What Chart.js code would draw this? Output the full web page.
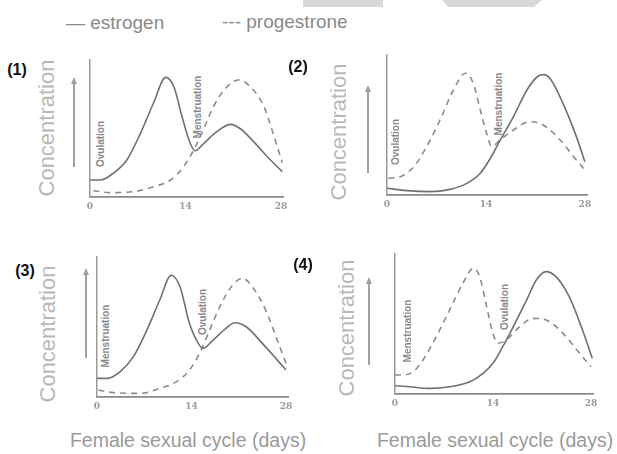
<!DOCTYPE html>
<html>
<head>
<meta charset="utf-8">
<script src="https://cdn.jsdelivr.net/npm/chart.js@4.4.1/dist/chart.umd.min.js"></script>
<style>
  html, body { margin:0; padding:0; background:#fff; }
  body { width:617px; height:454px; position:relative; overflow:hidden; font-family:"Liberation Sans", Arial, sans-serif; }
  .abs { position:absolute; white-space:nowrap; }
  .c { transform:translate(-50%,-50%); }
  .rot { transform:translate(-50%,-50%) rotate(-90deg); }
  canvas { position:absolute; }
</style>
</head>
<body>
<script>
// ---------- data (days, concentration in arbitrary units 0-100) ----------
const xTickLabels = [0, 14, 28];
const legendLabels = ["estrogen", "progestrone"];
const panelLabels = ["(1)", "(2)", "(3)", "(4)"];
const yTitle = "Concentration";
const xTitle = "Female sexual cycle (days)";

const p1EstDays = [0, 1.5, 3.4, 5.4, 7.4, 9.3, 11.1, 12.3, 13.5, 14.7, 15.4, 16.7, 18.6, 20.6, 22, 24, 26, 28.2];
const p1EstVals = [12.4, 12.4, 17.3, 27, 46.5, 68.4, 87.3, 80.5, 58.6, 39.2, 33.8, 39.2, 47.7, 53, 50, 40.4, 29.4, 18.5];
const p1ProDays = [0.5, 2.9, 6.4, 9.3, 11.8, 13.7, 15.2, 16.7, 18.1, 20.1, 21.8, 23.5, 25.5, 27, 28.2];
const p1ProVals = [4.6, 3.2, 3.9, 7.5, 12.4, 22, 34.3, 50, 66, 80.5, 85.4, 80.5, 66, 44, 25];

const p2EstDays = [0, 2.8, 6.1, 8.9, 11.3, 13.2, 14.6, 16, 17.9, 19.8, 21.4, 22.2, 23.1, 24.9, 26.8, 28];
const p2EstVals = [4.8, 3.1, 2.4, 4, 8.3, 15.5, 26, 39, 56, 75, 85, 86, 83, 65.5, 41.7, 23.8];
const p2ProDays = [0.2, 1.9, 3.8, 5.6, 7.5, 9.4, 11.1, 12.2, 13.2, 14.1, 14.8, 16, 17.9, 20.2, 22.1, 24.5, 26.4, 28];
const p2ProVals = [11.9, 13.1, 20.2, 34.5, 53.6, 75, 87, 79.8, 60.7, 44, 34.5, 39.3, 46.4, 52.4, 50, 39.3, 27.4, 17.9];

const p3EstDays = [0, 1.5, 3.4, 5.4, 7.4, 9.3, 11, 12.3, 13.7, 15, 15.7, 17.2, 19.1, 20.4, 22.1, 24.5, 26.5, 28];
const p3EstVals = [13.3, 13.3, 18, 28.8, 47.9, 69.3, 87, 78.8, 52.6, 38.3, 34.8, 40.7, 49, 53, 50.2, 38.3, 27.6, 19.3];
const p3ProDays = [0.2, 2.4, 6.4, 9.3, 11.8, 13.7, 15.2, 16.7, 18.2, 20.1, 21.6, 23, 25, 26.7, 28];
const p3ProVals = [5, 3.1, 2.6, 6.2, 11, 19.3, 31.2, 47.9, 64.5, 80, 84.8, 78.8, 62, 40.7, 24];

const p4EstDays = [0, 2.1, 5, 7.8, 10.7, 12.6, 14, 15.4, 16.9, 18.8, 20.2, 21.6, 23, 24.9, 26.8, 28.2];
const p4EstVals = [5.9, 5.2, 4, 5.2, 8.8, 14.8, 21.9, 33.8, 48, 67, 81.4, 87.4, 83.8, 69.5, 45.7, 25.5];
const p4ProDays = [0, 1.2, 2.6, 4, 5.9, 7.8, 9.7, 11.2, 12.1, 13.1, 14, 14.7, 15.9, 17.8, 19.7, 21.6, 24, 26.4, 28];
const p4ProVals = [13.6, 13.6, 15.9, 24.3, 41, 60, 79, 89.8, 83.8, 62.4, 43.3, 36.2, 38.6, 48, 54, 52.9, 43.3, 29, 19.5];

const eventLabels = [["Ovulation", "Menstruation"], ["Ovulation", "Menstruation"], ["Menstruation", "Ovulation"], ["Menstruation", "Ovulation"]];

// ---------- layout ----------
const panels = [
  { area:[90, 60, 283, 197], est:[p1EstDays, p1EstVals], pro:[p1ProDays, p1ProVals], lab:[17, 70], conc:[47, 128], arrow:[74, 77, 167], ev:[[100,144],[197,107]], xt:null },
  { area:[387, 55, 587, 195], est:[p2EstDays, p2EstVals], pro:[p2ProDays, p2ProVals], lab:[298, 67], conc:[339, 132], arrow:[368, 85, 173], ev:[[395,142],[498,104]], xt:null },
  { area:[97, 257, 288, 397], est:[p3EstDays, p3EstVals], pro:[p3ProDays, p3ProVals], lab:[25, 271], conc:[48, 334], arrow:[86, 268, 358], ev:[[105,336],[202,312]], xt:[188, 440] },
  { area:[395, 254, 593, 394], est:[p4EstDays, p4EstVals], pro:[p4ProDays, p4ProVals], lab:[303, 265], conc:[347, 328], arrow:[369, 277, 365], ev:[[407,331],[504,307]], xt:[495, 440] }
];

function addDiv(html, x, y, cls, style) {
  const d = document.createElement('div');
  d.className = 'abs ' + cls;
  d.style.left = x + 'px'; d.style.top = y + 'px';
  d.style.cssText += style;
  d.textContent = html;
  document.body.appendChild(d);
  return d;
}

// decorative scan artifacts at the top
(function(){
  const a = document.createElement('div');
  a.style.cssText = 'position:absolute;left:303px;top:0;width:80px;height:7px;background:#d8d8d8;';
  document.body.appendChild(a);
  const b = document.createElement('div');
  b.style.cssText = 'position:absolute;left:442px;top:0;width:100px;height:7px;background:#d8d8d8;clip-path:polygon(0 0,100% 0,92% 100%,6% 100%);';
  document.body.appendChild(b);
})();

// legend
addDiv('— ' + legendLabels[0], 66, 23, '', 'transform:translateY(-50%);font-size:19px;color:#8a8a8a;');
addDiv('--- ' + legendLabels[1], 222, 22, '', 'transform:translateY(-50%);font-size:19px;color:#8a8a8a;');

panels.forEach((p, i) => {
  const [L, T, R, B] = p.area;
  addDiv(panelLabels[i], p.lab[0], p.lab[1], 'c', 'font-size:16px;font-weight:bold;color:#111;');
  addDiv(yTitle, p.conc[0], p.conc[1], 'rot', 'font-size:22px;color:#b8b8b8;');
  // arrow
  const [ax, ay1, ay2] = p.arrow;
  const line = document.createElement('div');
  line.style.cssText = `position:absolute;left:${ax-0.75}px;top:${ay1+4}px;width:1.5px;height:${ay2-ay1-4}px;background:#a0a0a0;`;
  document.body.appendChild(line);
  const head = document.createElement('div');
  head.style.cssText = `position:absolute;left:${ax-3}px;top:${ay1}px;width:0;height:0;border-left:3px solid transparent;border-right:3px solid transparent;border-bottom:7px solid #a0a0a0;`;
  document.body.appendChild(head);
  // event labels
  p.ev.forEach((e, k) => addDiv(eventLabels[i][k], e[0], e[1], 'rot', 'font-size:10px;font-weight:bold;color:#8a8a8a;'));
  if (p.xt) addDiv(xTitle, p.xt[0], p.xt[1], 'c', 'font-size:19.5px;color:#9a9a9a;');

  const cv = document.createElement('canvas');
  const W = R - L + 20, H = B - T + 4 + 20;
  cv.width = W; cv.height = H;
  cv.style.left = (L - 10) + 'px'; cv.style.top = (T - 4) + 'px';
  cv.style.width = W + 'px'; cv.style.height = H + 'px';
  document.body.appendChild(cv);

  const toPts = (d, v) => d.map((x, j) => ({ x, y: v[j] }));
  new Chart(cv, {
    type: 'line',
    data: {
      datasets: [
        { label: legendLabels[0], data: toPts(p.est[0], p.est[1]), borderColor:'#707070', borderWidth:1.6, pointRadius:0, cubicInterpolationMode:'monotone', fill:false },
        { label: legendLabels[1], data: toPts(p.pro[0], p.pro[1]), borderColor:'#8c8c8c', borderWidth:1.6, borderDash:[6,5], pointRadius:0, cubicInterpolationMode:'monotone', fill:false }
      ]
    },
    options: {
      responsive:false, animation:false, devicePixelRatio:1,
      layout:{ padding:{ left:10, top:4, right:10, bottom:0 } },
      plugins:{ legend:{ display:false }, tooltip:{ enabled:false } },
      scales:{
        x:{ type:'linear', min:0, max:28.3,
            afterBuildTicks:(s) => { s.ticks = xTickLabels.map(v => ({ value:v })); },
            afterFit:(s) => { s.height = 20; },
            grid:{ display:false, drawTicks:false },
            border:{ display:true, color:'#8a8a8a', width:1.8 },
            ticks:{ padding:4, color:'#9a9a9a', font:{ size:9, weight:'bold', family:'"DejaVu Serif", serif' }, maxRotation:0, autoSkip:false } },
        y:{ type:'linear', min:0, max:100,
            afterFit:(s) => { s.width = 0; },
            grid:{ display:false, drawTicks:false },
            border:{ display:true, color:'#9a9a9a', width:1.5 },
            ticks:{ display:false } }
      }
    }
  });
});
</script>
</body>
</html>
